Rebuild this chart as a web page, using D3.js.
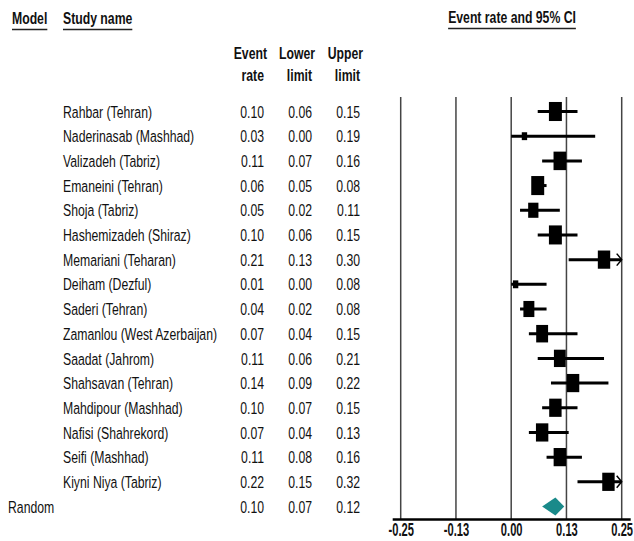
<!DOCTYPE html>
<html><head><meta charset="utf-8">
<script src="https://cdn.jsdelivr.net/npm/d3@7"></script>
<style>
html,body{margin:0;padding:0;background:#fff;}
text{font-family:"Liberation Sans Narrow","Arial Narrow","Liberation Sans",Arial,sans-serif;fill:#111;}
</style></head>
<body>
<svg id="c" width="634" height="541"></svg>
<script>
const studies = ["Rahbar (Tehran)","Naderinasab (Mashhad)","Valizadeh (Tabriz)","Emaneini (Tehran)","Shoja (Tabriz)","Hashemizadeh (Shiraz)","Memariani (Teharan)","Deiham (Dezful)","Saderi (Tehran)","Zamanlou (West Azerbaijan)","Saadat (Jahrom)","Shahsavan (Tehran)","Mahdipour (Mashhad)","Nafisi (Shahrekord)","Seifi (Mashhad)","Kiyni Niya (Tabriz)"];
const eventRate = [0.10,0.03,0.11,0.06,0.05,0.10,0.21,0.01,0.04,0.07,0.11,0.14,0.10,0.07,0.11,0.22];
const lowerLimit = [0.06,0.00,0.07,0.05,0.02,0.06,0.13,0.00,0.02,0.04,0.06,0.09,0.07,0.04,0.08,0.15];
const upperLimit = [0.15,0.19,0.16,0.08,0.11,0.15,0.30,0.08,0.08,0.15,0.21,0.22,0.15,0.13,0.16,0.32];
const weights = [7.0,1.2,6.6,7.0,4.4,7.0,6.4,1.2,5.0,5.9,5.8,6.4,6.4,6.4,6.4,6.4];
const randomLabel = "Random";
const randomRate = 0.10, randomLower = 0.07, randomUpper = 0.12;
const tickValues = [-0.25,-0.125,0,0.125,0.25];
const tickLabels = ["-0.25","-0.13","0.00","0.13","0.25"];

const SX = 0.72, FS = 17;
const svg = d3.select("#c");
const x = d3.scaleLinear().domain([-0.25,0.25]).range([400.7,621.7]);
const rows = studies.concat([randomLabel]);
const y = d3.scalePoint().domain(rows).range([111.5,506.5]);
const fmt = d3.format(".2f");

function ntext(g, t, xx, yy, opt){
  opt = opt || {};
  const el = g.append("text")
    .attr("transform",`translate(${xx},${yy}) scale(${opt.sx||SX},1)`)
    .attr("text-anchor",opt.anchor||"start")
    .attr("font-size",opt.fs||FS).attr("font-weight",opt.bold?"bold":"normal")
    .attr("dy",opt.dy||null)
    .text(t);
  return el;
}

// headers
function underlined(t, xx, yy, anchor){
  const el = ntext(svg,t,xx,yy,{anchor:anchor,bold:true});
  const w = el.node().getBBox().width*SX;
  const x0 = anchor==="middle" ? xx-w/2 : xx;
  svg.append("line").attr("x1",x0).attr("x2",x0+w).attr("y1",yy+5.5).attr("y2",yy+5.5)
    .attr("stroke","#222").attr("stroke-width",1.5);
}
underlined("Model",12,24);
underlined("Study name",63,24);
underlined("Event rate and 95% CI",512,23,"middle");

const colX = [266,314,362];
const hdr = [["Event","rate"],["Lower","limit"],["Upper","limit"]];
hdr.forEach((h,i)=>{
  ntext(svg,h[0],colX[i]+1,59,{anchor:"end",bold:true});
  ntext(svg,h[1],colX[i]-2,81,{anchor:"end",bold:true});
});

// grid lines
svg.append("g").selectAll("line").data(tickValues).join("line")
  .attr("x1",d=>x(d)).attr("x2",d=>x(d)).attr("y1",97).attr("y2",519)
  .attr("stroke","#444").attr("stroke-width",1.5);

// rows text
const data = studies.map((s,i)=>({name:s,r:eventRate[i],lo:lowerLimit[i],hi:upperLimit[i],w:weights[i]}));
const tg = svg.append("g");
data.forEach(d=>ntext(tg,d.name,63,y(d.name),{dy:"0.36em"}));
ntext(tg,randomLabel,8,y(randomLabel),{dy:"0.36em"});
const allRows = data.concat([{name:randomLabel,r:randomRate,lo:randomLower,hi:randomUpper}]);
["r","lo","hi"].forEach((k,i)=>{
  allRows.forEach(d=>ntext(tg,fmt(d[k]),colX[i]-2,y(d.name),{anchor:"end",dy:"0.36em"}));
});

// CI lines
const xmax = x.domain()[1];
const mg = svg.append("g");
mg.selectAll("line.ci").data(data).join("line").attr("class","ci")
  .attr("x1",d=>x(d.lo)).attr("x2",d=>x(Math.min(d.hi,xmax)))
  .attr("y1",d=>y(d.name)).attr("y2",d=>y(d.name))
  .attr("stroke","#000").attr("stroke-width",3);
mg.selectAll("path.arrow").data(data.filter(d=>d.hi>xmax)).join("path").attr("class","arrow")
  .attr("d",d=>{const xx=x(xmax), yy=y(d.name); return `M${xx-5},${yy-6}L${xx},${yy}L${xx-5},${yy+6}`;})
  .attr("fill","none").attr("stroke","#000").attr("stroke-width",1.5);
mg.selectAll("rect.box").data(data).join("rect").attr("class","box")
  .attr("x",d=>x(d.r)-Math.sqrt(d.w)*7.2*0.34).attr("width",d=>Math.sqrt(d.w)*7.2*0.68)
  .attr("y",d=>y(d.name)-Math.sqrt(d.w)*7.2/2).attr("height",d=>Math.sqrt(d.w)*7.2)
  .attr("fill","#000");

// diamond
const yr = y(randomLabel);
svg.append("path")
  .attr("d",`M${x(randomLower)},${yr}L${x(randomRate)},${yr-9}L${x(randomUpper)},${yr}L${x(randomRate)},${yr+9}Z`)
  .attr("fill","#1a8a8a");

// axis
svg.append("line").attr("x1",x(-0.25)-8).attr("x2",x(0.25)+9).attr("y1",519.5).attr("y2",519.5)
  .attr("stroke","#000").attr("stroke-width",2.5);
const ax = svg.append("g").attr("transform","translate(0,519)")
  .call(d3.axisBottom(x).tickValues(tickValues).tickSize(0).tickPadding(4).tickFormat((d,i)=>tickLabels[i]));
ax.select(".domain").remove();
ax.selectAll("text").attr("font-size",18).attr("font-weight","bold").attr("fill","#111")
  .attr("transform","scale(0.62,1)")
  .style("font-family",'"Liberation Sans Narrow","Arial Narrow","Liberation Sans",Arial,sans-serif');
</script>
</body></html>
